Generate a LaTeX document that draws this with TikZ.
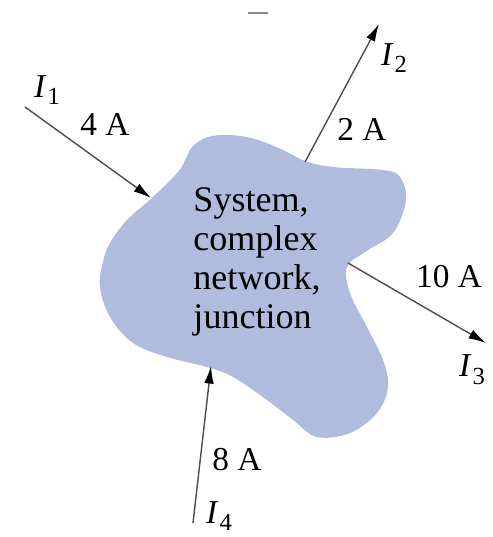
\documentclass[tikz,border=0pt]{standalone}
\usepackage{fontspec}
\setmainfont{Liberation Serif}
\usetikzlibrary{arrows.meta}

\definecolor{blobblue}{RGB}{176,188,222}
\newcommand{\cur}[1]{\textit{I}\kern0.5pt\raisebox{-0.5ex}{\fontsize{14}{14}\selectfont #1}}

\begin{document}
\begin{tikzpicture}[
  x=0.02cm, y=-0.02cm,
  every node/.style={font=\fontsize{19}{22}\selectfont, inner sep=0pt},
  label/.style={anchor=center},
  current/.style={-{Latex[length=10pt, width=5.5pt, color=black]}, line width=0.8pt, draw=black!70}
]
\useasboundingbox (0,0) rectangle (493,537);

% System blob
\fill[blobblue] plot[smooth cycle, tension=0.6] coordinates {
  (193,146) (208,137) (230,135) (255,139) (283,150) (305,161) (333,167)
  (383,170) (400,177) (406,200) (393,233) (365,252) (347,267) (350,293)
  (367,327) (383,360) (388,387) (377,413) (350,433) (317,437) (293,420)
  (267,400) (233,377) (207,367) (167,357) (133,343) (110,317) (100,287)
  (103,262) (110,243) (127,220) (153,197) (178,172) (186,158)};

\node[align=left, font=\fontsize{20.5}{22.2}\selectfont] (sys) at (257,262)
  {System,\\complex\\network,\\junction};

% small mark at the top
\draw[black!45, line width=1pt] (248,13) -- (268,13);

% Arrow end points
\coordinate (t1) at (25,107);   \coordinate (h1) at (151,198);
\coordinate (t2) at (305,162);  \coordinate (h2) at (379,24);
\coordinate (t3) at (348,263);  \coordinate (h3) at (486,343);
\coordinate (t4) at (193,523);  \coordinate (h4) at (211,366);

% Currents
\draw[current] (t1) -- (h1);
\draw[current] (t2) -- (h2);
\draw[current] (t3) -- (h3);
\draw[current] (t4) -- (h4);

% Labels
\node[label] (l1) at (47,90) {\cur{1}};
\node[label] (a1) at (105,124) {4 A};
\node[label] (l2) at (394,58) {\cur{2}};
\node[label] (a2) at (362,129) {2 A};
\node[label] (a3) at (449,277) {10 A};
\node[label] (l3) at (472,370) {\cur{3}};
\node[label] (a4) at (237,460) {8 A};
\node[label] (l4) at (219,516) {\cur{4}};

\end{tikzpicture}
\end{document}
